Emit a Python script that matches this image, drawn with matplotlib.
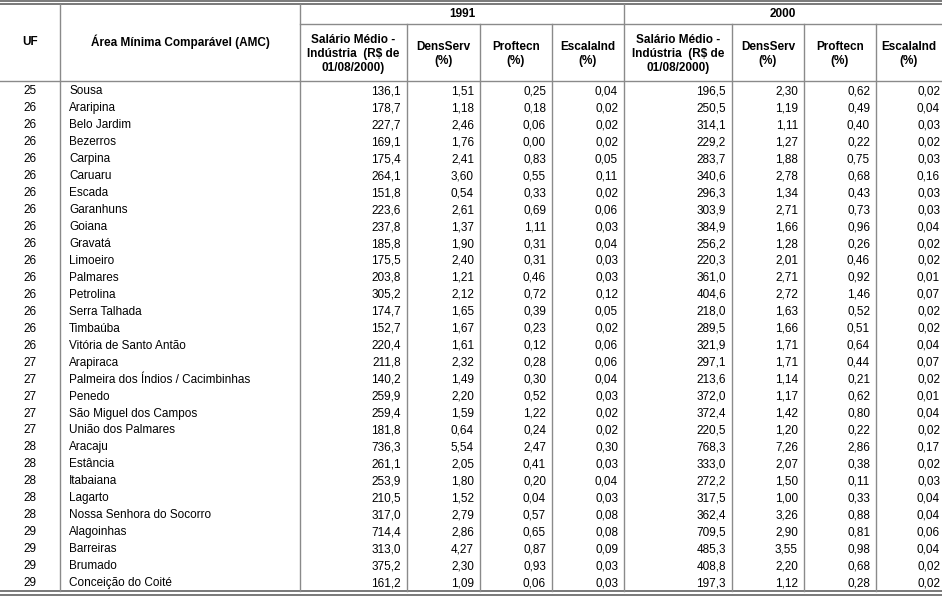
import matplotlib.pyplot as plt

plt.rcParams['font.family'] = ['Liberation Sans', 'DejaVu Sans']

# dados da tabela
uf = [25, 26, 26, 26, 26, 26, 26, 26, 26, 26, 26, 26, 26, 26, 26, 26,
      27, 27, 27, 27, 27, 28, 28, 28, 28, 28, 29, 29, 29, 29]
amc = ["Sousa", "Araripina", "Belo Jardim", "Bezerros", "Carpina", "Caruaru",
       "Escada", "Garanhuns", "Goiana", "Gravatá", "Limoeiro", "Palmares",
       "Petrolina", "Serra Talhada", "Timbaúba", "Vitória de Santo Antão",
       "Arapiraca", "Palmeira dos Índios / Cacimbinhas", "Penedo",
       "São Miguel dos Campos", "União dos Palmares", "Aracaju", "Estância",
       "Itabaiana", "Lagarto", "Nossa Senhora do Socorro", "Alagoinhas",
       "Barreiras", "Brumado", "Conceição do Coité"]

sal91 = [136.1, 178.7, 227.7, 169.1, 175.4, 264.1, 151.8, 223.6, 237.8, 185.8,
         175.5, 203.8, 305.2, 174.7, 152.7, 220.4, 211.8, 140.2, 259.9, 259.4,
         181.8, 736.3, 261.1, 253.9, 210.5, 317.0, 714.4, 313.0, 375.2, 161.2]
dens91 = [1.51, 1.18, 2.46, 1.76, 2.41, 3.60, 0.54, 2.61, 1.37, 1.90,
          2.40, 1.21, 2.12, 1.65, 1.67, 1.61, 2.32, 1.49, 2.20, 1.59,
          0.64, 5.54, 2.05, 1.80, 1.52, 2.79, 2.86, 4.27, 2.30, 1.09]
prof91 = [0.25, 0.18, 0.06, 0.00, 0.83, 0.55, 0.33, 0.69, 1.11, 0.31,
          0.31, 0.46, 0.72, 0.39, 0.23, 0.12, 0.28, 0.30, 0.52, 1.22,
          0.24, 2.47, 0.41, 0.20, 0.04, 0.57, 0.65, 0.87, 0.93, 0.06]
esc91 = [0.04, 0.02, 0.02, 0.02, 0.05, 0.11, 0.02, 0.06, 0.03, 0.04,
         0.03, 0.03, 0.12, 0.05, 0.02, 0.06, 0.06, 0.04, 0.03, 0.02,
         0.02, 0.30, 0.03, 0.04, 0.03, 0.08, 0.08, 0.09, 0.03, 0.03]

sal00 = [196.5, 250.5, 314.1, 229.2, 283.7, 340.6, 296.3, 303.9, 384.9, 256.2,
         220.3, 361.0, 404.6, 218.0, 289.5, 321.9, 297.1, 213.6, 372.0, 372.4,
         220.5, 768.3, 333.0, 272.2, 317.5, 362.4, 709.5, 485.3, 408.8, 197.3]
dens00 = [2.30, 1.19, 1.11, 1.27, 1.88, 2.78, 1.34, 2.71, 1.66, 1.28,
          2.01, 2.71, 2.72, 1.63, 1.66, 1.71, 1.71, 1.14, 1.17, 1.42,
          1.20, 7.26, 2.07, 1.50, 1.00, 3.26, 2.90, 3.55, 2.20, 1.12]
prof00 = [0.62, 0.49, 0.40, 0.22, 0.75, 0.68, 0.43, 0.73, 0.96, 0.26,
          0.46, 0.92, 1.46, 0.52, 0.51, 0.64, 0.44, 0.21, 0.62, 0.80,
          0.22, 2.86, 0.38, 0.11, 0.33, 0.88, 0.81, 0.98, 0.68, 0.28]
esc00 = [0.02, 0.04, 0.03, 0.02, 0.03, 0.16, 0.03, 0.03, 0.04, 0.02,
         0.02, 0.01, 0.07, 0.02, 0.02, 0.04, 0.07, 0.02, 0.01, 0.04,
         0.02, 0.17, 0.02, 0.03, 0.04, 0.04, 0.06, 0.04, 0.02, 0.02]

years = ["1991", "2000"]
sub_headers = ["Salário Médio -\nIndústria  (R$ de\n01/08/2000)", "DensServ\n(%)",
               "Proftecn\n(%)", "EscalaInd\n(%)"]

# layout (pixels)
W, H = 942, 596
col_x = [0, 60, 300, 407, 480, 552, 624, 732, 804, 876, 942]
y_top, y_year, y_head = 4, 24, 81
row_h = 16.95
y0 = 83
y_bot = 591
line_c = '#8a8a8a'
fs = 8.5

fig = plt.figure(figsize=(W / 100, H / 100), dpi=100)
ax = fig.add_axes([0, 0, 1, 1])
ax.set_xlim(0, W)
ax.set_ylim(H, 0)
ax.axis('off')

# bordas duplas
for y in (1, 4):
    ax.plot([0, W], [y, y], color='#555555', lw=1.1)
for y in (591, 594.5):
    ax.plot([0, W], [y, y], color='#555555', lw=1.1)

# linhas do cabeçalho
ax.plot([300, W], [y_year, y_year], color=line_c, lw=1)
ax.plot([0, W], [y_head, y_head], color=line_c, lw=1)
for x in col_x[1:-1]:
    top = y_top if x in (60, 300, 624) else y_year
    ax.plot([x, x], [top, y_bot], color=line_c, lw=1)

# textos do cabeçalho
ax.text(30, 42, "UF", ha='center', va='center', fontsize=fs, fontweight='bold')
ax.text(180, 42, "Área Mínima Comparável (AMC)", ha='center', va='center',
        fontsize=fs, fontweight='bold')
for k, yr in enumerate(years):
    xs = col_x[2 + 4 * k:7 + 4 * k]
    ax.text((xs[0] + xs[-1]) / 2, 14, yr, ha='center', va='center',
            fontsize=fs, fontweight='bold')
    for j, h in enumerate(sub_headers):
        ax.text((xs[j] + xs[j + 1]) / 2, 54, h, ha='center', va='center',
                fontsize=fs, fontweight='bold', linespacing=1.2)


def fmt(v, d):
    return f"{v:.{d}f}".replace('.', ',')


cols = [(sal91, 1), (dens91, 2), (prof91, 2), (esc91, 2),
        (sal00, 1), (dens00, 2), (prof00, 2), (esc00, 2)]

for i in range(len(amc)):
    yc = y0 + row_h * (i + 0.5)
    ax.text(30, yc, str(uf[i]), ha='center', va='center', fontsize=fs)
    ax.text(69, yc, amc[i], ha='left', va='center', fontsize=fs)
    for j, (vals, d) in enumerate(cols):
        xr = col_x[j + 3] - 6 if j < 7 else W - 2
        ax.text(xr, yc, fmt(vals[i], d), ha='right', va='center', fontsize=fs)

fig.savefig('out.png', dpi=100)
